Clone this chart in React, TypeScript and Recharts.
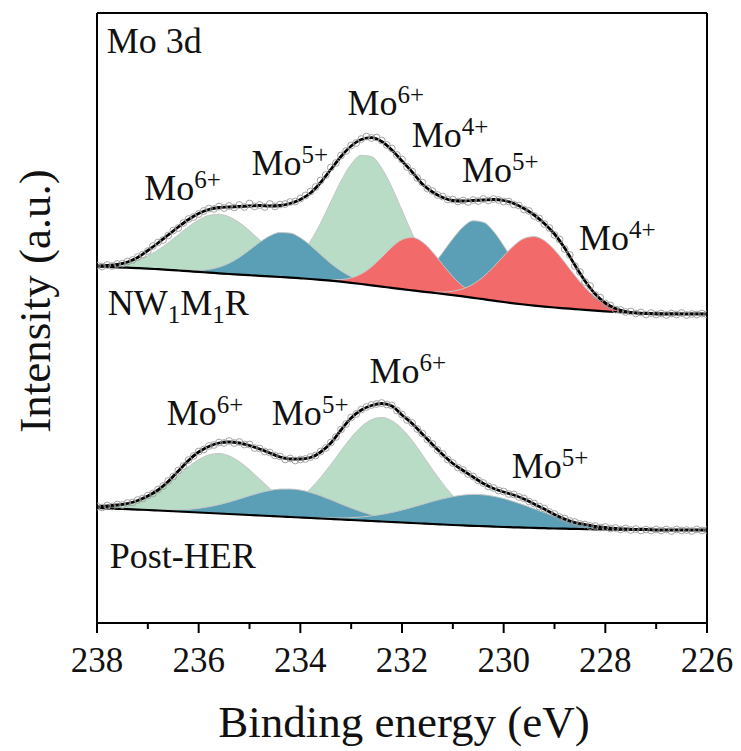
import React from 'react';
import { ComposedChart, Area, Line, Scatter, XAxis, YAxis, ReferenceDot } from 'recharts';

const W = 741;
const H = 751;
const SERIF = "'Liberation Serif', 'Times New Roman', serif";
const GREEN = '#b8dcc5';
const BLUE = '#5a9fb5';
const RED = '#f36a6a';
const EDGE = '#c6c6c6';

// spectra are sampled from 238 eV downwards
const E0 = 238;
const FIT_STEP = 0.2;
const RAW_STEP = 0.1;
const energyTicks = [238, 237, 236, 235, 234, 233, 232, 231, 230, 229, 228, 227, 226];

// ---- NW1M1R (upper spectrum), 0.2 eV grid ----
const topBg = [
  356.5, 356, 355.7, 355.3, 354.9, 354.4, 353.8, 353.2, 352.5, 351.8,
  351.1, 350.4, 349.7, 349, 348.4, 347.8, 347.2, 346.6, 346, 345.4,
  344.7, 344, 343.2, 342.3, 341.3, 340.2, 339, 337.7, 336.4, 335.1,
  333.8, 332.6, 331.4, 330.3, 329.1, 327.9, 326.6, 325.2, 323.8, 322.4,
  321, 319.7, 318.5, 317.4, 316.4, 315.5, 314.7, 313.9, 313.1, 312.3,
  311.6, 311, 310.5, 310.1, 309.8, 309.6, 309.4, 309.3, 309.2, 309.1,
  309,
];
const topFit = [
  357, 357.5, 358.5, 361, 365.5, 372.5, 380, 388, 396, 403.5,
  409.5, 413.5, 415.5, 416, 416.5, 417, 417.5, 417, 417.5, 419.5,
  423.5, 430, 440.5, 453.5, 466.5, 477, 483.5, 485.3, 481.5, 473,
  462, 451, 439, 431, 425.5, 422.5, 422, 422.5, 423, 423.5,
  422.5, 419.5, 414.5, 408, 399.5, 389, 375, 358, 342, 329,
  320, 314.5, 311.5, 310, 309.5, 309, 309, 309, 309, 309,
  309,
];
// fitted components, heights above background, each listed from its first energy
const topMo6aStart = 238.0;
const topMo6a = [0.6, 1.4, 2.6, 4.7, 8.0, 12.7, 19.2, 27.0, 35.8, 44.5, 52.0, 57.2, 59, 57.2, 52.0, 44.5, 35.8, 27.0, 19.2, 12.7, 8.0, 4.7, 2.6, 1.4, 0.6];
const topMo5aStart = 236.2;
const topMo5a = [0.6, 1.5, 3.2, 6.1, 10.8, 17.2, 25.2, 33.5, 40.5, 44.5, 44.5, 40.5, 33.5, 25.2, 17.2, 10.8, 6.1, 3.2, 1.5, 0.6];
const topMo6bStart = 234.8;
const topMo6b = [1.4, 3.3, 6.8, 13.1, 23.2, 37.8, 56.9, 78.9, 100.7, 118.6, 128.7, 128.7, 118.6, 100.7, 78.9, 56.9, 37.8, 23.2, 13.1, 6.8, 3.3, 1.4];
const topMo4aStart = 233.4;
const topMo4a = [0.8, 2.1, 4.9, 10.1, 18.4, 29.3, 40.7, 49.6, 53, 49.6, 40.7, 29.3, 18.4, 10.1, 4.9, 2.1, 0.8];
const topMo5bStart = 232.4;
const topMo5b = [0.7, 1.8, 4.2, 8.7, 16.1, 27.1, 41.3, 56.3, 69.3, 77.0, 77.0, 69.3, 56.3, 41.3, 27.1, 16.1, 8.7, 4.2, 1.8, 0.7];
const topMo4bStart = 231.4;
const topMo4b = [0.8, 1.8, 3.9, 7.6, 13.7, 22.4, 33.6, 46.0, 57.6, 66.0, 69, 66.0, 57.6, 46.0, 33.6, 22.4, 13.7, 7.6, 3.9, 1.8, 0.8];

// measured points, 0.1 eV grid
const topRaw = [
  357.5, 356.5, 358, 357, 359, 359.5, 361.5, 363, 366, 368.5,
  372, 377, 380.5, 383, 387.5, 392.5, 395, 400, 404, 406,
  409, 412, 414.5, 414, 416.5, 415, 417, 415.5, 418, 416,
  419.5, 416.5, 418, 416, 419, 416.5, 418.5, 419, 421, 421.5,
  424.5, 427.5, 431.5, 436, 442.5, 448, 455.5, 460, 467.5, 472,
  477.5, 480, 484, 486.5, 485, 485.5, 482.5, 478, 474.5, 468,
  463.5, 456, 451.5, 445, 440.5, 434.5, 432, 428, 426.5, 423.5,
  423.5, 421.5, 422.5, 421, 423, 422, 424, 422.5, 424, 423,
  421.5, 421.5, 418.5, 417.5, 413.5, 412, 407, 404.5, 399, 395,
  388, 383.5, 374, 368, 357, 351, 341, 337, 328, 325.5,
  319.5, 317.5, 313.5, 313, 311, 311.5, 309.5, 310.5, 308.5, 310,
  308.5, 309.5, 308, 309.5, 308.5, 310, 308, 309, 308.5, 309.5,
  308.5,
];

// ---- Post-HER (lower spectrum), 0.2 eV grid ----
const botBg = [
  115, 114.6, 114.2, 113.8, 113.4, 113, 112.5, 112, 111.5, 111,
  110.5, 110, 109.5, 109, 108.5, 108, 107.5, 107, 106.5, 106,
  105.5, 105, 104.5, 104, 103.5, 103, 102.5, 102, 101.5, 101,
  100.5, 100, 99.5, 99, 98.5, 98, 97.6, 97.2, 96.8, 96.4,
  96, 95.7, 95.4, 95.1, 94.8, 94.5, 94.3, 94.1, 93.9, 93.7,
  93.5, 93.4, 93.3, 93.2, 93.1, 93, 93, 93, 93, 93,
  93,
];
const botFit = [
  116, 117, 118, 119.5, 122.5, 127, 133, 141.5, 152, 162.5,
  171, 176.5, 180, 181, 180, 177.5, 174, 170, 166, 164,
  164, 165.5, 171, 180, 193, 205, 213, 217.5, 219.5, 217,
  208, 199.5, 189, 178.5, 168.5, 159.5, 152.5, 146, 139.5, 134.5,
  131, 128, 124, 119, 114, 108.5, 104, 100.5, 98.5, 96.5,
  95.5, 94.5, 94, 93.5, 93.5, 93, 93, 93, 93, 93,
  93,
];
const botMo6aStart = 238.0;
const botMo6a = [0.7, 1.4, 2.6, 4.7, 8.1, 13.0, 19.5, 27.5, 36.4, 45.3, 52.9, 58.1, 60, 58.1, 52.9, 45.3, 36.4, 27.5, 19.5, 13.0, 8.1, 4.7, 2.6, 1.4, 0.7];
const botMo5aStart = 236.8;
const botMo5a = [0.5, 0.9, 1.6, 2.6, 4.1, 6.2, 8.8, 12.0, 15.5, 19.2, 22.7, 25.5, 27.4, 28, 27.4, 25.5, 22.7, 19.2, 15.5, 12.0, 8.8, 6.2, 4.1, 2.6, 1.6, 0.9, 0.5];
const botMo6bStart = 235.0;
const botMo6b = [1.4, 2.5, 4.6, 7.9, 12.8, 19.9, 29.3, 41.1, 54.5, 68.8, 82.5, 93.8, 101.3, 104, 101.3, 93.8, 82.5, 68.8, 54.5, 41.1, 29.3, 19.9, 12.8, 7.9, 4.6, 2.5, 1.4];
const botMo5bStart = 233.8;
const botMo5b = [0.3, 0.6, 1.0, 1.5, 2.4, 3.5, 5.1, 7.1, 9.5, 12.4, 15.7, 19.1, 22.6, 25.7, 28.4, 30.3, 31.4, 31.4, 30.3, 28.4, 25.7, 22.6, 19.1, 15.7, 12.4, 9.5, 7.1, 5.1, 3.5, 2.4, 1.5, 1.0, 0.6, 0.3];

const botRaw = [
  116.5, 115.5, 117.5, 116.5, 118.5, 118, 120, 120.5, 123, 124.5,
  127.5, 129.5, 133.5, 137, 142, 146.5, 152.5, 157, 163, 167,
  171.5, 173.5, 177, 178, 180.5, 180, 182, 180, 181, 178.5,
  178.5, 175, 174.5, 171.5, 170.5, 167.5, 166.5, 163.5, 164.5, 162.5,
  163.5, 164, 166, 167.5, 171.5, 175, 180.5, 186, 193.5, 199,
  205.5, 209, 213.5, 216, 218, 219, 220, 218.5, 217.5, 212.5,
  208.5, 203, 200, 194, 189.5, 183.5, 179, 173, 169, 163.5,
  160, 155.5, 153, 149, 146.5, 142.5, 140, 136.5, 135, 132.5,
  131.5, 129, 128.5, 126, 124.5, 121.5, 119.5, 116.5, 114.5, 111,
  109, 106, 104.5, 102, 101, 99, 98.5, 97, 97, 95.5,
  96, 94.5, 95, 93.5, 94.5, 93, 94, 92.5, 93.5, 92.5,
  93.5, 92.5, 93.5, 92, 93.5, 92.5, 93, 92, 93.5, 92.5,
  93,
];

// oxidation-state tags, anchored in (energy, intensity)
const ionTags = [
  { e: 237.07, u: 423, ion: '6+' },
  { e: 234.96, u: 448, ion: '5+' },
  { e: 233.07, u: 508, ion: '6+' },
  { e: 231.81, u: 476, ion: '4+' },
  { e: 230.82, u: 441, ion: '5+' },
  { e: 228.52, u: 373, ion: '4+' },
  { e: 236.63, u: 198, ion: '6+' },
  { e: 234.56, u: 198, ion: '5+' },
  { e: 232.64, u: 240, ion: '6+' },
  { e: 229.84, u: 145, ion: '5+' },
];

type Peak = { key: string; start: number; h: number[]; bg: 'top' | 'bot'; color: string };

// greens first, then blues, reds on top
const peaks: Peak[] = [
  { key: 'tMo6a', start: topMo6aStart, h: topMo6a, bg: 'top', color: GREEN },
  { key: 'tMo6b', start: topMo6bStart, h: topMo6b, bg: 'top', color: GREEN },
  { key: 'bMo6a', start: botMo6aStart, h: botMo6a, bg: 'bot', color: GREEN },
  { key: 'bMo6b', start: botMo6bStart, h: botMo6b, bg: 'bot', color: GREEN },
  { key: 'tMo5a', start: topMo5aStart, h: topMo5a, bg: 'top', color: BLUE },
  { key: 'tMo5b', start: topMo5bStart, h: topMo5b, bg: 'top', color: BLUE },
  { key: 'bMo5a', start: botMo5aStart, h: botMo5a, bg: 'bot', color: BLUE },
  { key: 'bMo5b', start: botMo5bStart, h: botMo5b, bg: 'bot', color: BLUE },
  { key: 'tMo4a', start: topMo4aStart, h: topMo4a, bg: 'top', color: RED },
  { key: 'tMo4b', start: topMo4bStart, h: topMo4b, bg: 'top', color: RED },
];

const heightAt = (p: Peak, e: number) => {
  const j = Math.round((p.start - e) / FIT_STEP);
  return j >= 0 && j < p.h.length ? p.h[j] : null;
};

const rows = topBg.map((_, i) => {
  const e = +(E0 - i * FIT_STEP).toFixed(1);
  const row: Record<string, any> = { e, topBg: topBg[i], topFit: topFit[i], botBg: botBg[i], botFit: botFit[i] };
  peaks.forEach((p) => {
    const v = heightAt(p, e);
    const base = p.bg === 'top' ? topBg[i] : botBg[i];
    row[p.key] = v == null ? null : [base, base + v];
  });
  return row;
});

const topPts = topRaw.map((u, i) => ({ e: +(E0 - i * RAW_STEP).toFixed(1), u }));
const botPts = botRaw.map((u, i) => ({ e: +(E0 - i * RAW_STEP).toFixed(1), u }));

const Ring = (p: any) => (
  <circle cx={p.cx} cy={p.cy} r={3.4} fill="none" stroke="#9a9a9a" strokeWidth={0.9} />
);

// major ticks every 2 eV carry a label, minor ticks in between are shorter
const EnergyTick = ({ x, y, payload }: any) => {
  const major = payload.value % 2 === 0;
  return (
    <g>
      <line x1={x} x2={x} y1={y} y2={y + (major ? 10 : 6)} stroke="#000" strokeWidth={2} />
      {major && (
        <text x={x} y={y + 49} textAnchor="middle" fontFamily={SERIF} fontSize={35} fill="#111">
          {payload.value}
        </text>
      )}
    </g>
  );
};

const IonTag = ({ cx, cy, ion }: any) => (
  <text x={cx} y={cy} fontFamily={SERIF} fontSize={36} fill="#111">
    Mo
    <tspan dy={-12} fontSize={25}>
      {ion}
    </tspan>
  </text>
);

const frame = { stroke: '#000', strokeWidth: 2 };

export default function App() {
  return (
    <div style={{ position: 'absolute', left: 0, top: 0, width: W, height: H, background: '#fff' }}>
      <ComposedChart width={W} height={H} data={rows} margin={{ top: 12, right: 33, bottom: 127, left: 96 }}>
        <XAxis
          dataKey="e"
          type="number"
          domain={[226, 238]}
          reversed
          allowDataOverflow
          ticks={energyTicks}
          interval={0}
          height={1}
          tickSize={0}
          tickMargin={0}
          tickLine={false}
          axisLine={frame}
          tick={(props: any) => <EnergyTick {...props} />}
        />
        <XAxis
          xAxisId="top"
          orientation="top"
          type="number"
          domain={[226, 238]}
          reversed
          height={1}
          tick={false}
          tickLine={false}
          axisLine={frame}
        />
        <YAxis type="number" domain={[0, 610]} allowDataOverflow width={1} tick={false} tickLine={false} axisLine={frame} />
        <YAxis
          yAxisId="right"
          orientation="right"
          type="number"
          domain={[0, 610]}
          width={1}
          tick={false}
          tickLine={false}
          axisLine={frame}
        />

        {peaks.map((p) => (
          <Area
            key={p.key}
            dataKey={p.key}
            type="monotone"
            fill={p.color}
            fillOpacity={1}
            stroke={EDGE}
            strokeWidth={1}
            isAnimationActive={false}
          />
        ))}

        <Line dataKey="topBg" type="monotone" stroke="#000" strokeWidth={2.2} dot={false} isAnimationActive={false} />
        <Line dataKey="botBg" type="monotone" stroke="#000" strokeWidth={2.2} dot={false} isAnimationActive={false} />
        <Scatter data={topPts} dataKey="u" shape={Ring} isAnimationActive={false} />
        <Scatter data={botPts} dataKey="u" shape={Ring} isAnimationActive={false} />
        <Line dataKey="topFit" type="monotone" stroke="#000" strokeWidth={2.8} dot={false} isAnimationActive={false} />
        <Line dataKey="botFit" type="monotone" stroke="#000" strokeWidth={2.8} dot={false} isAnimationActive={false} />

        {ionTags.map((t, i) => (
          <ReferenceDot key={i} x={t.e} y={t.u} r={0} shape={(p: any) => <IonTag cx={p.cx} cy={p.cy} ion={t.ion} />} />
        ))}
        <ReferenceDot
          x={237.81}
          y={570}
          r={0}
          shape={(p: any) => (
            <text x={p.cx} y={p.cy} fontFamily={SERIF} fontSize={36} fill="#111">Mo 3d</text>
          )}
        />
        <ReferenceDot
          x={237.79}
          y={308}
          r={0}
          shape={(p: any) => (
            <text x={p.cx} y={p.cy} fontFamily={SERIF} fontSize={36} fill="#111">
              NW<tspan dy={8} fontSize={25}>1</tspan>
              <tspan dy={-8}>M</tspan>
              <tspan dy={8} fontSize={25}>1</tspan>
              <tspan dy={-8}>R</tspan>
            </text>
          )}
        />
        <ReferenceDot
          x={237.75}
          y={55}
          r={0}
          shape={(p: any) => (
            <text x={p.cx} y={p.cy} fontFamily={SERIF} fontSize={36} fill="#111">Post-HER</text>
          )}
        />
      </ComposedChart>
      <svg width={W} height={H} style={{ position: 'absolute', left: 0, top: 0, pointerEvents: 'none' }}>
        <text x={50} y={301} transform="rotate(-90 50 301)" textAnchor="middle" fontFamily={SERIF} fontSize={45} fill="#111">
          Intensity (a.u.)
        </text>
        <text x={404} y={737} textAnchor="middle" fontFamily={SERIF} fontSize={45} fill="#111">
          Binding energy (eV)
        </text>
      </svg>
    </div>
  );
}
